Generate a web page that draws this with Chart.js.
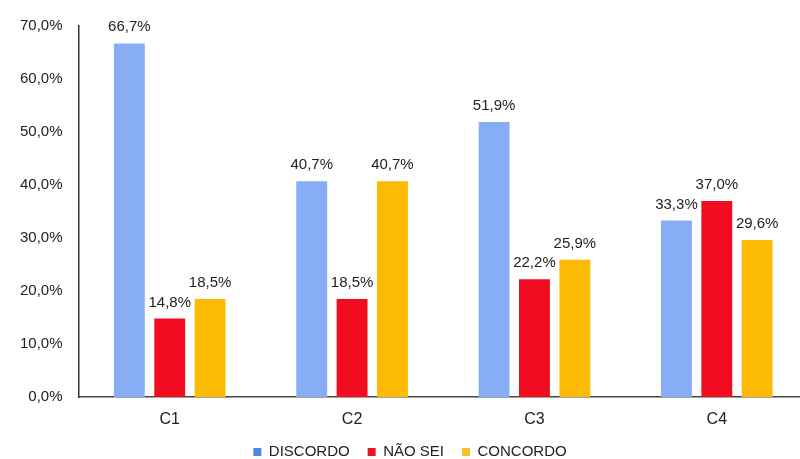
<!DOCTYPE html>
<html><head><meta charset="utf-8">
<script src="https://cdn.jsdelivr.net/npm/chart.js@4"></script>
<style>html,body{margin:0;padding:0;background:#fff;overflow:hidden}#wrap{width:800px;height:459px;overflow:hidden}</style>
</head><body><div id="wrap"><canvas id="c" width="808" height="459"></canvas></div>
<script>
const categories = ["C1", "C2", "C3", "C4"];
const seriesNames = ["DISCORDO", "NÃO SEI", "CONCORDO"];
const discordo = [66.7, 40.7, 51.9, 33.3];
const naoSei = [14.8, 18.5, 22.2, 37.0];
const concordo = [18.5, 40.7, 25.9, 29.6];
const yTicks = [0, 10, 20, 30, 40, 50, 60, 70];

const barColors = ["#88adf7", "#f20c1f", "#fcbb02"];
const legendColors = ["#4a86e8", "#ee1122", "#f1c232"];
const FONT = '"Liberation Sans", Arial, sans-serif';

const fmt = v => v.toFixed(1).replace('.', ',') + '%';

const labelPlugin = {
  id: 'valueLabels',
  beforeLayout(chart) {
    const lg = chart.legend;
    if (lg && !lg._patched) {
      const f = lg.fit;
      lg.fit = function () { f.call(this); this.height -= 10.5; };
      lg._patched = true;
    }
  },
  afterDatasetsDraw(chart) {
    const ctx = chart.ctx;
    ctx.save();
    ctx.font = '15px ' + FONT;
    ctx.fillStyle = '#222';
    ctx.textAlign = 'center';
    ctx.textBaseline = 'alphabetic';
    chart.data.datasets.forEach((ds, i) => {
      chart.getDatasetMeta(i).data.forEach((bar, j) => {
        ctx.fillText(fmt(ds.data[j]), bar.x, bar.y - 12);
      });
    });
    ctx.restore();
  }
};

new Chart(document.getElementById('c'), {
  type: 'bar',
  data: {
    labels: categories,
    datasets: [
      { label: seriesNames[0], data: discordo, backgroundColor: barColors[0] },
      { label: seriesNames[1], data: naoSei, backgroundColor: barColors[1] },
      { label: seriesNames[2], data: concordo, backgroundColor: barColors[2] }
    ]
  },
  options: {
    responsive: false,
    animation: false,
    devicePixelRatio: 1,
    layout: { padding: { top: 26, left: 12, right: 0, bottom: 0 } },
    datasets: { bar: { categoryPercentage: 0.664, barPercentage: 0.765 } },
    scales: {
      x: {
        grid: { display: false },
        border: { display: true, color: '#444', width: 1.5 },
        ticks: { color: '#222', font: { size: 16, family: FONT }, padding: 5 },
        afterFit: s => { s.height = 29.5; }
      },
      y: {
        min: 0, max: 70,
        afterBuildTicks: axis => { axis.ticks = yTicks.map(v => ({ value: v })); },
        grid: { display: false },
        border: { display: true, color: '#333', width: 1.5 },
        ticks: { color: '#222', font: { size: 15, family: FONT }, padding: 8, callback: v => fmt(v) }
      }
    },
    plugins: {
      legend: {
        position: 'bottom',
        labels: {
          boxWidth: 8, boxHeight: 8, padding: 18, color: '#222',
          font: { size: 15, family: FONT },
          generateLabels: chart => chart.data.datasets.map((ds, i) => ({
            text: ds.label, fillStyle: legendColors[i], strokeStyle: legendColors[i], lineWidth: 0,
            hidden: false, datasetIndex: i, fontColor: '#222'
          }))
        }
      },
      tooltip: { enabled: false }
    }
  },
  plugins: [labelPlugin]
});
</script>
</body></html>
